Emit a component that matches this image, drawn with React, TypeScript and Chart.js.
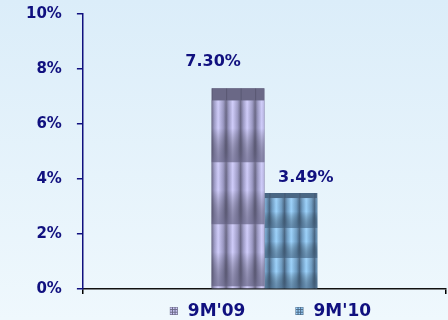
import React, { useEffect, useRef } from 'react';
import { Chart, registerables } from 'chart.js';

Chart.register(...registerables);

// ---- data ----
const categories = [''];
const seriesNames = ["9M'09", "9M'10"];
const values09 = [7.3];
const values10 = [3.49];
const yTickValues = [0, 2, 4, 6, 8, 10];

// ---- styles ----
const NAVY = '#10107f';
const FONT = '"DejaVu Sans", Verdana, sans-serif';

type Tex = { light: string; mid: string; dark: string; shade: string; cap: number; row: number; col: number; shift: number };
const textures: Tex[] = [
  { light: '#d0cdfb', mid: '#9c9ac4', dark: '#6a6886', shade: 'rgba(98,96,128,0.65)', cap: 12, row: 62, col: 14.5, shift: 0 },
  { light: '#9cd2fb', mid: '#6f9cc2', dark: '#4a6784', shade: 'rgba(66,96,126,0.6)', cap: 5, row: 30, col: 15, shift: 5 },
];
const labelOffsets = [
  { dx: -25, dy: -26 },
  { dx: 15, dy: -15 },
];

function drawCell(ctx: CanvasRenderingContext2D, x: number, y: number, w: number, h: number, t: Tex) {
  const g = ctx.createLinearGradient(x, 0, x + w, 0);
  g.addColorStop(0, t.dark);
  g.addColorStop(0.18, t.mid);
  g.addColorStop(0.45, t.light);
  g.addColorStop(0.8, t.mid);
  g.addColorStop(1, t.dark);
  ctx.fillStyle = g;
  ctx.fillRect(x, y, w, h);
  const v = ctx.createLinearGradient(0, y, 0, y + h);
  v.addColorStop(0, 'rgba(255,255,255,0.05)');
  v.addColorStop(0.45, 'rgba(0,0,0,0)');
  v.addColorStop(1, t.shade);
  ctx.fillStyle = v;
  ctx.fillRect(x, y, w, h);
}

const texturePlugin = {
  id: 'barTexture',
  afterDatasetDraw(chart: any, args: any) {
    const ctx: CanvasRenderingContext2D = chart.ctx;
    const t = textures[args.index];
    if (!t) return;
    args.meta.data.forEach((el: any) => {
      const p = el.getProps(['x', 'y', 'base', 'width'], true);
      const left = p.x - p.width / 2;
      const right = p.x + p.width / 2;
      const top = Math.min(p.y, p.base);
      const bottom = Math.max(p.y, p.base);
      ctx.save();
      ctx.beginPath();
      ctx.rect(left, top, right - left, bottom - top);
      ctx.clip();
      for (let ry = top + t.cap; ry < bottom; ry += t.row) {
        for (let cx = left + t.shift - t.col; cx < right; cx += t.col) {
          drawCell(ctx, cx, ry, t.col, t.row, t);
        }
      }
      ctx.fillStyle = t.dark;
      ctx.fillRect(left, top, right - left, t.cap);
      ctx.strokeStyle = 'rgba(60,60,80,0.35)';
      ctx.lineWidth = 1;
      for (let cx = left + t.shift - t.col; cx < right; cx += t.col) {
        ctx.beginPath();
        ctx.moveTo(cx + 0.5, top);
        ctx.lineTo(cx + 0.5, top + t.cap);
        ctx.stroke();
      }
      ctx.restore();
    });
  },
};

const labelPlugin = {
  id: 'valueLabels',
  afterDatasetsDraw(chart: any) {
    const ctx: CanvasRenderingContext2D = chart.ctx;
    ctx.save();
    ctx.font = `bold 16px ${FONT}`;
    ctx.fillStyle = NAVY;
    ctx.textAlign = 'center';
    ctx.textBaseline = 'middle';
    chart.data.datasets.forEach((ds: any, i: number) => {
      const meta = chart.getDatasetMeta(i);
      meta.data.forEach((el: any, j: number) => {
        const p = el.getProps(['x', 'y'], true);
        const o = labelOffsets[i];
        ctx.fillText(Number(ds.data[j]).toFixed(2) + '%', p.x + o.dx, p.y + o.dy);
      });
    });
    ctx.restore();
  },
};

function drawIcon(ctx: CanvasRenderingContext2D, x: number, y: number, t: Tex) {
  ctx.fillStyle = t.dark;
  ctx.fillRect(x, y, 8, 8);
  ctx.fillStyle = t.light;
  for (let i = 0; i < 3; i++) {
    for (let j = 0; j < 3; j++) {
      ctx.fillRect(x + 0.5 + i * 2.6, y + 0.5 + j * 2.6, 1.6, 1.6);
    }
  }
}

const legendPlugin = {
  id: 'customLegend',
  afterDraw(chart: any) {
    const ctx: CanvasRenderingContext2D = chart.ctx;
    const area = chart.chartArea;
    ctx.save();
    ctx.font = `bold 17px ${FONT}`;
    ctx.textBaseline = 'middle';
    ctx.textAlign = 'left';
    const box = 8, boxGap = 10, itemGap = 50;
    const items = chart.data.datasets.map((ds: any, i: number) => ({
      text: ds.label as string,
      tex: textures[i],
      w: box + boxGap + ctx.measureText(ds.label).width,
    }));
    const total = items.reduce((s: number, it: any) => s + it.w, 0) + itemGap * (items.length - 1);
    let x = (area.left + area.right) / 2 + 6 - total / 2;
    const y = chart.height - 8;
    items.forEach((it: any) => {
      drawIcon(ctx, x, y - 5, it.tex);
      ctx.fillStyle = NAVY;
      ctx.fillText(it.text, x + box + boxGap, y);
      x += it.w + itemGap;
    });
    ctx.restore();
  },
};

export default function App() {
  const ref = useRef<HTMLCanvasElement | null>(null);
  useEffect(() => {
    if (!ref.current) return;
    const chart = new Chart(ref.current, {
      type: 'bar',
      data: {
        labels: categories,
        datasets: [
          { label: seriesNames[0], data: values09, backgroundColor: textures[0].dark, borderWidth: 0 },
          { label: seriesNames[1], data: values10, backgroundColor: textures[1].dark, borderWidth: 0 },
        ],
      },
      options: {
        responsive: false,
        animation: false,
        devicePixelRatio: 1,
        layout: { padding: { left: 11, right: 2, top: 14, bottom: 26 } },
        datasets: { bar: { categoryPercentage: 0.291, barPercentage: 1.0 } },
        plugins: { legend: { display: false }, tooltip: { enabled: false } },
        scales: {
          x: {
            grid: { drawOnChartArea: false, drawTicks: true, tickLength: 5, color: '#000', lineWidth: 1.5 },
            border: { color: '#111', width: 1.5 },
            ticks: { display: false },
          },
          y: {
            min: 0,
            max: 10,
            afterBuildTicks: (scale: any) => {
              scale.ticks = yTickValues.map((v) => ({ value: v }));
            },
            afterFit: (scale: any) => {
              scale.paddingTop = 8;
              scale.paddingBottom = 8;
            },
            ticks: {
              color: NAVY,
              padding: 15,
              font: { family: FONT, size: 15, weight: 'bold' },
              callback: (v: any) => v + '%',
            },
            grid: { drawOnChartArea: false, drawTicks: true, tickLength: 6, color: NAVY, lineWidth: 1.5 },
            border: { color: NAVY, width: 1.5 },
          },
        },
      },
      plugins: [texturePlugin, labelPlugin, legendPlugin],
    } as any);
    return () => chart.destroy();
  }, []);
  return (
    <div
      style={{
        position: 'fixed',
        left: 0,
        top: 0,
        width: 448,
        height: 320,
        background: 'linear-gradient(to bottom, #dbedf9 0%, #eff8fd 100%)',
      }}
    >
      <canvas ref={ref} width={448} height={320} style={{ display: 'block' }} />
    </div>
  );
}
